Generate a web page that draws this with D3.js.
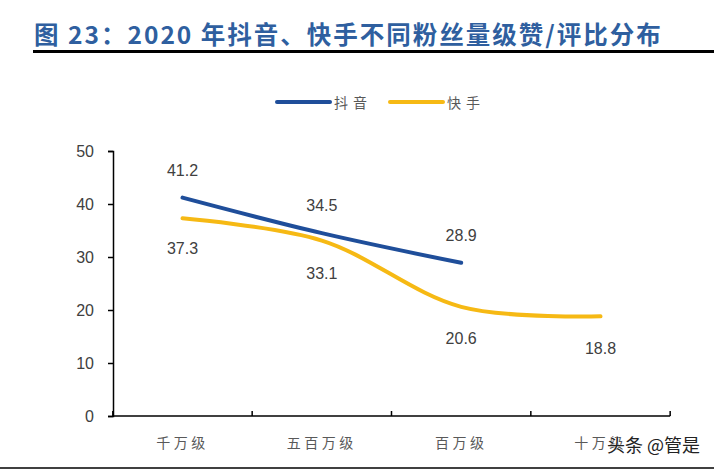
<!DOCTYPE html>
<html>
<head>
<meta charset="utf-8">
<script src="https://cdn.jsdelivr.net/npm/d3@7"></script>
<style>
  body { margin: 0; background: #fff; }
  svg { display: block; }
</style>
</head>
<body>
<svg width="714" height="471"></svg>
<script>
let categories = ['千万级', '五百万级', '百万级', '十万级'];
let douyin = [41.2, 34.5, 28.9];
let kuaishou = [37.3, 33.1, 20.6, 18.8];
let yTicks = [0, 10, 20, 30, 40, 50];

let width = 714;
let height = 471;
let cjk = '"Noto Sans CJK SC", sans-serif';

const svg = d3.select('svg');

// title + rule
svg.append('text')
    .attr('x', 34).attr('y', 44)
    .attr('font-family', cjk)
    .attr('font-size', 24.5)
    .attr('font-weight', 'bold')
    .attr('letter-spacing', 2)
    .attr('fill', '#2F5F9F')
    .text('图 23：2020 年抖音、快手不同粉丝量级赞/评比分布');
svg.append('line')
    .attr('x1', 33).attr('x2', width)
    .attr('y1', 51.5).attr('y2', 51.5)
    .attr('stroke', '#000').attr('stroke-width', 3);
svg.append('line')
    .attr('x1', 0).attr('x2', width)
    .attr('y1', 468).attr('y2', 468)
    .attr('stroke', '#000').attr('stroke-width', 1.5);

let xScale = d3.scalePoint()
    .domain(categories)
    .range([182.5, 600.5]);

let yScale = d3.scaleLinear()
    .domain([0, 50])
    .range([416, 151]);

// y axis
let yAxis = svg.append('g')
    .attr('transform', 'translate(113,0)')
    .call(d3.axisLeft(yScale).tickValues(yTicks).tickSize(5).tickPadding(14));
yAxis.select('.domain').attr('stroke', '#000').attr('stroke-width', 1.5);
yAxis.selectAll('.tick line').attr('stroke', '#000').attr('stroke-width', 1.5);
yAxis.selectAll('text')
    .attr('font-family', 'Liberation Sans, Arial, sans-serif')
    .attr('font-size', 16).attr('fill', '#404040');

// x axis
let band = xScale.step();
let xg = svg.append('g');
xg.append('line')
    .attr('x1', 113).attr('x2', xScale(categories[3]) + band / 2)
    .attr('y1', yScale(0)).attr('y2', yScale(0))
    .attr('stroke', '#000').attr('stroke-width', 1.5);
d3.range(categories.length + 1).forEach(i => {
    let x = xScale(categories[0]) - band / 2 + i * band;
    xg.append('line')
        .attr('x1', x).attr('x2', x)
        .attr('y1', yScale(0)).attr('y2', yScale(0) - 5)
        .attr('stroke', '#000').attr('stroke-width', 1.5);
});
xg.selectAll('text.cat')
    .data(categories)
    .enter()
    .append('text')
        .attr('class', 'cat')
        .attr('x', d => xScale(d))
        .attr('y', 448)
        .attr('text-anchor', 'middle')
        .attr('font-family', cjk)
        .attr('font-size', 14)
        .attr('letter-spacing', 3.5)
        .attr('fill', '#595959')
        .text(d => d);

// lines
let line = d3.line()
    .x((d, i) => xScale(categories[i]))
    .y(d => yScale(d))
    .curve(d3.curveCatmullRom.alpha(0.5));

svg.append('path')
    .datum(douyin)
    .attr('d', line)
    .attr('fill', 'none')
    .attr('stroke', '#1F4E9A')
    .attr('stroke-width', 4)
    .attr('stroke-linecap', 'round');

svg.append('path')
    .datum(kuaishou)
    .attr('d', line)
    .attr('fill', 'none')
    .attr('stroke', '#F6B914')
    .attr('stroke-width', 4)
    .attr('stroke-linecap', 'round');

// data labels
let labelFont = 'Liberation Sans, Arial, sans-serif';
svg.selectAll('text.dy')
    .data(douyin)
    .enter()
    .append('text')
        .attr('class', 'dy')
        .attr('x', (d, i) => xScale(categories[i]))
        .attr('y', d => yScale(d) - 22)
        .attr('text-anchor', 'middle')
        .attr('font-family', labelFont)
        .attr('font-size', 16).attr('fill', '#404040')
        .text(d => d.toFixed(1));

let ksOff = [36, 38.5, 37, 37.5];
svg.selectAll('text.ks')
    .data(kuaishou)
    .enter()
    .append('text')
        .attr('class', 'ks')
        .attr('x', (d, i) => xScale(categories[i]))
        .attr('y', (d, i) => yScale(d) + ksOff[i])
        .attr('text-anchor', 'middle')
        .attr('font-family', labelFont)
        .attr('font-size', 16).attr('fill', '#404040')
        .text(d => d.toFixed(1));

// legend
let legendItems = [
    { name: '抖音', color: '#1F4E9A', x: 277 },
    { name: '快手', color: '#F6B914', x: 390 }
];
let lg = svg.append('g');
legendItems.forEach(d => {
    lg.append('line')
        .attr('x1', d.x).attr('x2', d.x + 53)
        .attr('y1', 102).attr('y2', 102)
        .attr('stroke', d.color).attr('stroke-width', 4)
        .attr('stroke-linecap', 'round');
    lg.append('text')
        .attr('x', d.x + 57).attr('y', 108)
        .attr('font-family', cjk)
        .attr('font-size', 14)
        .attr('letter-spacing', 5)
        .attr('fill', '#595959')
        .text(d.name);
});

// watermark
svg.append('text')
    .attr('x', 700).attr('y', 452)
    .attr('text-anchor', 'end')
    .attr('font-family', cjk)
    .attr('font-size', 18)
    .attr('fill', '#222')
    .attr('stroke', '#fff').attr('stroke-width', 0.6).attr('paint-order', 'stroke')
    .text('头条 @管是');
</script>
</body>
</html>
